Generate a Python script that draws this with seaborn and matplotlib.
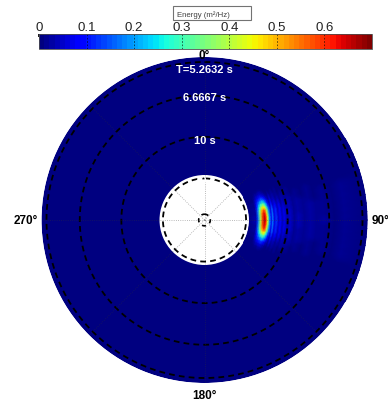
import numpy as np
import matplotlib
matplotlib.use("Agg")
import matplotlib.pyplot as plt
import seaborn as sns
from matplotlib.colors import Normalize
from matplotlib.patches import Rectangle

# ---------------- data ----------------
period_s = [5.2632, 6.6667, 10.0, 20.0]             # dashed period circles
period_labels = ["T=5.2632 s", "6.6667 s", "10 s", "20 s"]
period_label_r = [0.1816, 0.1480, 0.0962, 0.0480]   # label radius (Hz)
inner_circle_hz = 0.007                              # small circle at the centre

freq_hz = [0.0541, 0.0625, 0.0649, 0.0673, 0.0697, 0.0722, 0.0740, 0.0758,
           0.0782, 0.0806, 0.0824, 0.0842, 0.0866, 0.0890, 0.0914, 0.0938,
           0.0962, 0.0998, 0.1034, 0.1082, 0.1130, 0.1203, 0.1275, 0.1347,
           0.1443, 0.1564, 0.1684, 0.1960]
energy_peak_dir = [0.0, 0.03, 0.17, 0.38, 0.56, 0.66, 0.62, 0.44,
                   0.2, 0.07, 0.17, 0.06, 0.12, 0.045, 0.09, 0.035,
                   0.07, 0.025, 0.045, 0.015, 0.03, 0.012, 0.022, 0.008,
                   0.018, 0.006, 0.014, 0.0]
dir_deg = [60, 63, 66, 69, 72, 75, 78, 81, 84, 87, 90,
           93, 96, 99, 102, 105, 108, 111, 114, 117, 120]
dir_spread = [0.0, 0.03, 0.08, 0.18, 0.32, 0.5, 0.7, 0.88, 0.96, 0.99, 1.0,
              0.99, 0.96, 0.88, 0.7, 0.5, 0.32, 0.18, 0.08, 0.03, 0.0]
background_energy = 0.004
f_min, f_max = 0.0541, 0.196

cbar_ticks = [0, 0.1, 0.2, 0.3, 0.4, 0.5, 0.6]
cbar_range = (0.0, 0.7)
theta_labels = ["0°", "90°", "180°", "270°"]
theta_label_deg = [0, 90, 180, 270]
theta_label_r = [0.1984, 0.2116, 0.2104, 0.2152]

# ---------------- style ----------------
sns.set_theme(style="white")
plt.rcParams["font.family"] = ["Liberation Sans", "DejaVu Sans"]

W, H = 388, 402
fig = plt.figure(figsize=(W / 100, H / 100), dpi=100)
fig.patch.set_facecolor("white")

cx, cy, rad = 204.5, 221.0, 163.0
ax = fig.add_axes([(cx - rad) / W, (H - cy - rad) / H, 2 * rad / W, 2 * rad / H],
                  projection="polar")
ax.set_theta_zero_location("N")
ax.set_theta_direction(-1)
ax.set_facecolor("white")
ax.spines["polar"].set_visible(False)

cmap = matplotlib.colormaps["jet"].resampled(64)
norm = Normalize(*cbar_range)

# background annulus
ax.bar(0, f_max - f_min, width=2 * np.pi, bottom=f_min,
       color=cmap(norm(background_energy)), edgecolor="none", zorder=0.8)

# spectrum patch
T, R = np.meshgrid(np.deg2rad(dir_deg), freq_hz)
C = background_energy + np.outer(energy_peak_dir, dir_spread)
mesh = ax.pcolormesh(T, R, C, shading="gouraud", cmap=cmap, norm=norm, zorder=1)

# dashed period circles
th = np.linspace(0, 2 * np.pi, 361)
for p in period_s:
    ax.plot(th, np.full_like(th, 1.0 / p), color="black", lw=1.3,
            ls=(0, (3.2, 2.3)), zorder=2)
ax.plot(th, np.full_like(th, inner_circle_hz), color="black", lw=1.2,
        ls=(0, (2.5, 2.5)), zorder=2)

for lab, r in zip(period_labels, period_label_r):
    ax.text(0, r, lab, color="white", fontsize=8, fontweight="bold",
            ha="center", va="center", zorder=4)

ax.set_ylim(0, f_max)
ax.set_yticks([])
ax.set_xticks(np.deg2rad(np.arange(0, 360, 45)))
ax.set_xticklabels([])
ax.set_axisbelow(False)
ax.xaxis.grid(True, color="0.2", alpha=0.45, linestyle=":", linewidth=0.6)
ax.yaxis.grid(False)

for lab, a, r in zip(theta_labels, theta_label_deg, theta_label_r):
    ax.text(np.deg2rad(a), r, lab, fontsize=8.5, fontweight="bold",
            ha="center", va="center", clip_on=False, color="black")

# colorbar
cax = fig.add_axes([39 / W, (H - 50) / H, 333 / W, 15 / H])
cb = fig.colorbar(mesh, cax=cax, orientation="horizontal")
cb.set_ticks(cbar_ticks)
cb.set_ticklabels([("%g" % t) for t in cbar_ticks])
cax.xaxis.set_ticks_position("top")
cax.tick_params(axis="x", direction="in", length=2, pad=1, labelsize=9.5,
                labelcolor="#222222", color="black")
for t in cbar_ticks[1:]:
    cax.axvline(t, color="black", lw=0.6, ls=(0, (2, 2)), alpha=0.7)
cb.outline.set_linewidth(0.6)
cb.outline.set_edgecolor("0.3")

# energy label box
fig.add_artist(Rectangle((173 / W, 1 - 21 / H), 78 / W, 14 / H,
                         transform=fig.transFigure, facecolor="white",
                         edgecolor="0.45", lw=0.8))
fig.text(177 / W, 1 - 15 / H, "Energy (m²/Hz)", fontsize=5.6,
         ha="left", va="center", color="0.25")

fig.savefig("out.png", dpi=100)
